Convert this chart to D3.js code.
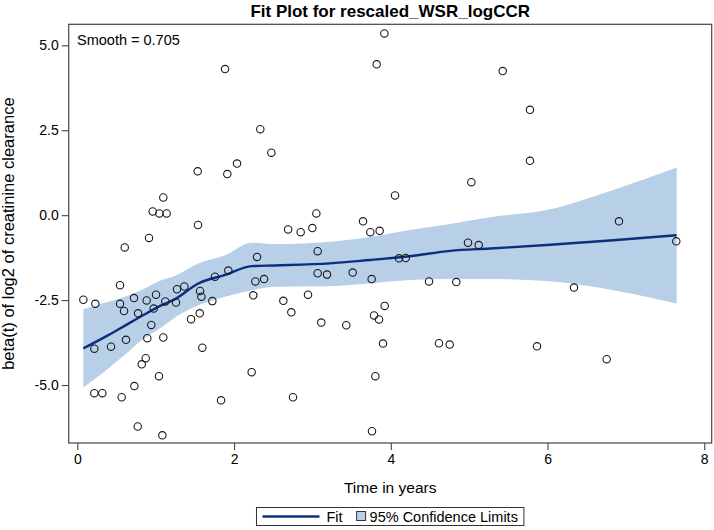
<!DOCTYPE html>
<html>
<head>
<meta charset="utf-8">
<script src="https://cdn.jsdelivr.net/npm/d3@7/dist/d3.min.js"></script>
<style>
  html, body { margin: 0; padding: 0; background: #fff; }
  svg { display: block; font-family: "Liberation Sans", Arial, sans-serif; }
</style>
</head>
<body>
<svg id="chart" width="714" height="530"></svg>
<script>
// ---- Data ----
const titleText = "Fit Plot for rescaled_WSR_logCCR";
const xLabel = "Time in years";
const yLabel = "beta(t) of log2 of creatinine clearance";
const smoothLabel = "Smooth = 0.705";
const xTicks = [0, 2, 4, 6, 8];
const yTicks = [-5, -2.5, 0, 2.5, 5];
const legendLabels = ["Fit", "95% Confidence Limits"];

const pointX = [1.885, 2.335, 2.476, 2.038, 1.914, 1.536, 1.097, 0.962, 1.047, 1.140,
  1.540, 0.915, 2.690, 0.605, 0.545, 0.077, 0.230, 0.545, 0.596, 0.723,
  0.885, 1.004, 0.775, 0.975, 1.123, 1.259, 1.272, 1.366, 1.566, 1.583,
  1.723, 1.757, 1.927, 2.293, 2.272, 2.383, 2.246, 2.629, 2.731, 1.451,
  1.562, 0.944, 0.217, 0.430, 0.621, 0.893, 1.097, 1.595, 0.873, 0.822,
  1.042, 2.225, 0.728, 0.217, 0.319, 0.566, 1.834, 2.752, 0.771, 1.085,
  3.918, 3.820, 5.428, 5.028, 4.054, 3.050, 2.850, 2.999, 3.646, 3.739,
  3.858, 4.985, 3.067, 3.067, 3.186, 3.514, 3.756, 4.105, 4.190, 4.488,
  4.836, 5.122, 2.944, 3.113, 3.432, 3.786, 3.850, 3.922, 3.901, 4.615,
  4.752, 3.803, 3.760, 5.776, 5.776, 6.912, 7.643, 6.338, 5.866, 6.755];
const pointY = [4.30, 2.53, 1.84, 1.52, 1.21, 1.29, 0.52, 0.11, 0.05, 0.05,
  -0.29, -0.67, -0.42, -0.95, -2.06, -2.49, -2.61, -2.61, -2.82, -2.44,
  -2.51, -2.34, -2.89, -2.75, -2.54, -2.57, -2.18, -2.10, -2.23, -2.40,
  -2.53, -1.81, -1.63, -1.23, -1.95, -1.88, -2.36, -2.52, -2.86, -3.06,
  -2.89, -3.23, -3.93, -3.87, -3.67, -3.62, -3.60, -3.90, -4.21, -4.39,
  -4.74, -4.62, -5.03, -5.24, -5.24, -5.36, -5.45, -5.36, -6.22, -6.48,
  5.35, 4.44, 4.24, 0.97, 0.58, 0.05, -0.50, -0.38, -0.18, -0.50,
  -0.46, -0.81, -1.06, -1.71, -1.75, -1.69, -1.88, -1.27, -1.26, -1.95,
  -1.97, -0.88, -2.34, -3.16, -3.24, -2.95, -3.07, -2.67, -3.78, -3.77,
  -3.81, -4.74, -6.36, 3.10, 1.60, -0.18, -0.77, -2.13, -3.86, -4.24];

const fitX = [0.077, 0.396, 0.609, 0.821, 1.077, 1.247, 1.544, 1.885, 2.225, 2.523,
  3.225, 3.735, 4.245, 4.756, 5.266, 5.990, 6.840, 7.648];
const fitY = [-3.92, -3.53, -3.25, -2.97, -2.65, -2.47, -2.01, -1.76, -1.50, -1.48,
  -1.42, -1.32, -1.21, -1.05, -0.98, -0.88, -0.74, -0.59];
const upperY = [-2.77, -2.55, -2.40, -2.20, -1.91, -1.78, -1.42, -1.18, -0.81, -0.85,
  -0.78, -0.64, -0.44, -0.26, -0.06, 0.15, 0.74, 1.40];
const lowerY = [-5.07, -4.51, -4.10, -3.68, -3.30, -3.01, -2.65, -2.40, -2.21, -2.11,
  -2.09, -2.01, -1.91, -1.88, -1.88, -1.94, -2.21, -2.60];

// ---- Layout ----
const plot = { left: 68.7, right: 711.7, top: 24.3, bottom: 443 };
const svg = d3.select("#chart");

const x = d3.scaleLinear().domain([-0.11, 8.095]).range([plot.left, plot.right]);
const y = d3.scaleLinear().domain([-6.706, 5.618]).range([plot.bottom, plot.top]);

const lineColor = "#0b2f7e";
const bandColor = "#b8cfe8";
const textColor = "#000";

svg.append("clipPath").attr("id", "clip").append("rect")
  .attr("x", plot.left).attr("y", plot.top)
  .attr("width", plot.right - plot.left).attr("height", plot.bottom - plot.top);

const g = svg.append("g").attr("clip-path", "url(#clip)");

const bandData = fitX.map((v, i) => ({ x: v, lo: lowerY[i], hi: upperY[i] }));
g.append("path")
  .datum(bandData)
  .attr("fill", bandColor)
  .attr("stroke", "none")
  .attr("d", d3.area().x(d => x(d.x)).y0(d => y(d.lo)).y1(d => y(d.hi)).curve(d3.curveMonotoneX));

const fitData = fitX.map((v, i) => ({ x: v, y: fitY[i] }));
g.append("path")
  .datum(fitData)
  .attr("fill", "none")
  .attr("stroke", lineColor)
  .attr("stroke-width", 2.4)
  .attr("d", d3.line().x(d => x(d.x)).y(d => y(d.y)).curve(d3.curveMonotoneX));

const pts = pointX.map((v, i) => ({ x: v, y: pointY[i] }));
g.selectAll("circle.pt").data(pts).enter().append("circle")
  .attr("class", "pt")
  .attr("cx", d => x(d.x)).attr("cy", d => y(d.y))
  .attr("r", 3.7)
  .attr("fill", "none")
  .attr("stroke", "#1a1a1a")
  .attr("stroke-width", 1.1);

svg.append("rect")
  .attr("x", plot.left).attr("y", plot.top)
  .attr("width", plot.right - plot.left).attr("height", plot.bottom - plot.top)
  .attr("fill", "none").attr("stroke", "#444").attr("stroke-width", 1.2);

const xAxis = d3.axisBottom(x).tickValues(xTicks).tickSize(7).tickPadding(4).tickFormat(d3.format("d"));
const yAxis = d3.axisLeft(y).tickValues(yTicks).tickSize(7).tickPadding(3).tickFormat(d3.format(".1f"));

const gx = svg.append("g").attr("transform", `translate(0,${plot.bottom})`).call(xAxis);
const gy = svg.append("g").attr("transform", `translate(${plot.left},0)`).call(yAxis);
[gx, gy].forEach(a => {
  a.select(".domain").remove();
  a.selectAll(".tick line").attr("stroke", "#444").attr("stroke-width", 1.1);
  a.selectAll(".tick text").attr("fill", textColor).style("font-size", "14px")
    .style("font-family", "'Liberation Sans', Arial, sans-serif");
});
gy.selectAll(".tick text").text(d => d3.format(".1f")(d).replace("\u2212", "-"));

svg.append("text")
  .attr("x", (plot.left + plot.right) / 2).attr("y", 17)
  .attr("text-anchor", "middle")
  .style("font-size", "17px").style("font-weight", "bold")
  .attr("fill", textColor).text(titleText);

svg.append("text")
  .attr("x", 77).attr("y", 45)
  .style("font-size", "14.5px").attr("fill", textColor).text(smoothLabel);

svg.append("text")
  .attr("x", (plot.left + plot.right) / 2).attr("y", 493)
  .attr("text-anchor", "middle")
  .style("font-size", "15.5px").attr("fill", textColor).text(xLabel);

svg.append("text")
  .attr("transform", `translate(14,${(plot.top + plot.bottom) / 2}) rotate(-90)`)
  .attr("text-anchor", "middle")
  .style("font-size", "16.5px").attr("fill", textColor).text(yLabel);

const leg = svg.append("g");
const legY = 516.5;
const fs = 14.5;
const t1 = leg.append("text").attr("y", legY + 5).style("font-size", fs + "px").attr("fill", textColor).text(legendLabels[0]);
const t2 = leg.append("text").attr("y", legY + 5).style("font-size", fs + "px").attr("fill", textColor).text(legendLabels[1]);
const w1 = t1.node().getComputedTextLength();
const w2 = t2.node().getComputedTextLength();
const lineLen = 57, pad = 6, gap1 = 7, gap2 = 14, sq = 9, gap3 = 4;
const total = pad + lineLen + gap1 + w1 + gap2 + sq + gap3 + w2 + pad;
const lx0 = (plot.left + plot.right) / 2 - total / 2;
leg.insert("rect", "text")
  .attr("x", lx0).attr("y", legY - 9).attr("width", total).attr("height", 18)
  .attr("fill", "#fff").attr("stroke", "#333").attr("stroke-width", 1);
leg.append("line")
  .attr("x1", lx0 + pad).attr("x2", lx0 + pad + lineLen)
  .attr("y1", legY).attr("y2", legY)
  .attr("stroke", lineColor).attr("stroke-width", 2.4);
t1.attr("x", lx0 + pad + lineLen + gap1);
const sqX = lx0 + pad + lineLen + gap1 + w1 + gap2;
leg.append("rect")
  .attr("x", sqX).attr("y", legY - sq / 2 - 0.5).attr("width", sq).attr("height", sq)
  .attr("fill", bandColor).attr("stroke", "#333").attr("stroke-width", 1);
t2.attr("x", sqX + sq + gap3);
</script>
</body>
</html>
